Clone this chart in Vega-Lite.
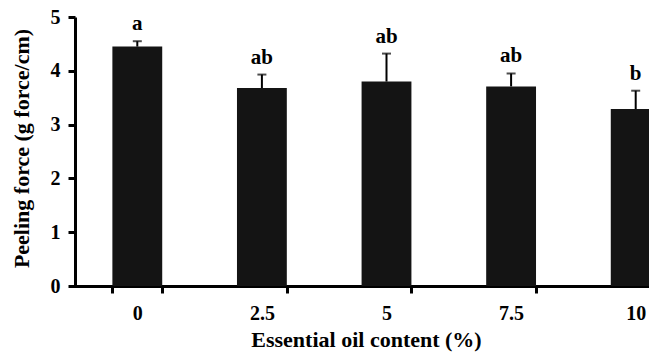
{
  "$schema": "https://vega.github.io/schema/vega-lite/v6.json",
  "autosize": {"type": "none"},
  "width": 574,
  "height": 269,
  "padding": {"left": 75, "top": 17, "right": 0, "bottom": 67},
  "background": "white",
  "config": {
    "view": {"stroke": null},
    "font": "Liberation Serif"
  },
  "data": {
    "values": [
      {"oil": "0", "force": 4.45, "err": 0.10, "group": "a"},
      {"oil": "2.5", "force": 3.68, "err": 0.25, "group": "ab"},
      {"oil": "5", "force": 3.80, "err": 0.52, "group": "ab"},
      {"oil": "7.5", "force": 3.71, "err": 0.24, "group": "ab"},
      {"oil": "10", "force": 3.29, "err": 0.34, "group": "b"}
    ]
  },
  "transform": [{"calculate": "datum.force + datum.err", "as": "upper"}],
  "encoding": {
    "x": {
      "field": "oil",
      "type": "ordinal",
      "sort": ["0", "2.5", "5", "7.5", "10"],
      "scale": {"range": [0, 623], "paddingInner": 0.6, "paddingOuter": 0.3},
      "axis": {
        "title": "Essential oil content (%)",
        "titleFont": "Liberation Serif",
        "titleFontSize": 22,
        "titleFontWeight": "bold",
        "titleColor": "black",
        "titleX": 291,
        "titleY": 60,
        "titleBaseline": "alphabetic",
        "labelAngle": 0,
        "labelFont": "Liberation Serif",
        "labelFontSize": 20,
        "labelFontWeight": "bold",
        "labelColor": "black",
        "labelPadding": 10,
        "tickBand": "extent",
        "tickSize": 7,
        "tickWidth": 3,
        "tickColor": "black",
        "domainWidth": 3,
        "domainColor": "black",
        "domainCap": "square"
      }
    }
  },
  "layer": [
    {
      "mark": {"type": "bar", "color": "#141414"},
      "encoding": {
        "y": {
          "field": "force",
          "type": "quantitative",
          "scale": {"domain": [0, 5], "nice": false},
          "axis": {
            "title": "Peeling force (g force/cm)",
            "titleFont": "Liberation Serif",
            "titleFontSize": 22,
            "titleFontWeight": "bold",
            "titleColor": "black",
            "titleX": -42,
            "titleY": 131,
            "values": [0, 1, 2, 3, 4, 5],
            "grid": false,
            "labelFont": "Liberation Serif",
            "labelFontSize": 20,
            "labelFontWeight": "bold",
            "labelColor": "black",
            "labelPadding": 8,
            "tickSize": 7,
            "tickWidth": 3,
            "tickColor": "black",
            "domainWidth": 3,
            "domainColor": "black"
          }
        }
      }
    },
    {
      "mark": {"type": "rule", "color": "black", "strokeWidth": 2},
      "encoding": {
        "y": {"field": "force", "type": "quantitative"},
        "y2": {"field": "upper"}
      }
    },
    {
      "mark": {"type": "tick", "color": "black", "thickness": 2, "size": 9, "orient": "horizontal"},
      "encoding": {
        "y": {"field": "upper", "type": "quantitative"}
      }
    },
    {
      "mark": {"type": "text", "font": "Liberation Serif", "fontSize": 21, "fontWeight": "bold", "color": "black", "baseline": "alphabetic", "dy": -11},
      "encoding": {
        "y": {"field": "upper", "type": "quantitative"},
        "text": {"field": "group"}
      }
    }
  ]
}
